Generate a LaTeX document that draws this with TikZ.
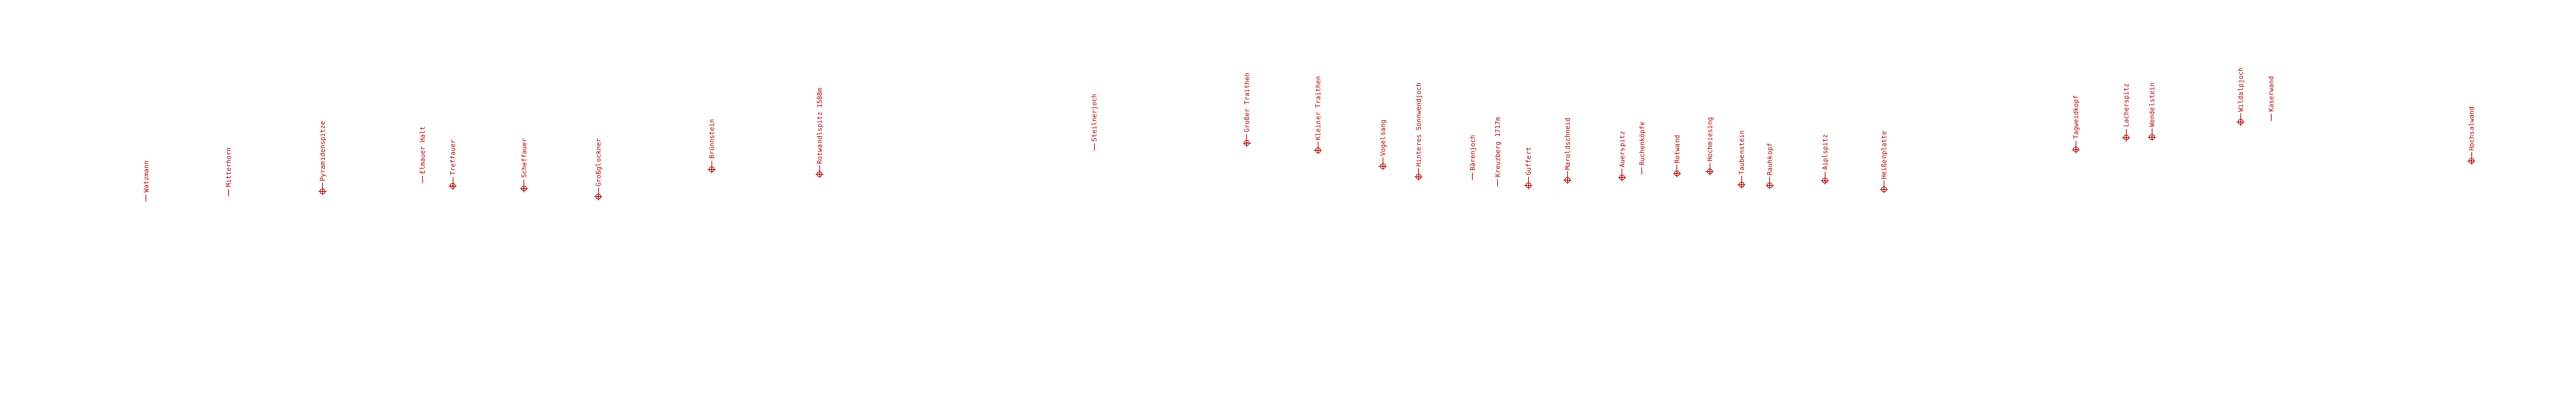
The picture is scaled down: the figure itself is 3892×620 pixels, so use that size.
\documentclass[tikz,border=0pt]{standalone}
\usepackage{fontspec}
\newfontfamily\lblfont{DejaVu Sans Mono}
\definecolor{pk}{RGB}{170,0,0}
\tikzset{
  lbl/.style={rotate=90, anchor=west, inner sep=0pt, text=pk, font=\lblfont\fontsize{10}{12}\selectfont, text height=7.3pt, text depth=0pt},
  stem/.style={draw=pk, line width=0.9pt},
  marker/.style={circle, draw=pk, line width=0.9pt, minimum size=8pt, inner sep=0pt}
}
\newcommand\peakmark[4]{%
  \node[marker] (#1m) at (#2,#3) {};
  \node[lbl] (#1t) at (#2,#3-15) {#4};
  \draw[stem] ([xshift=-1.5pt]#1m.west) -- ([xshift=1.5pt]#1m.east);
  \draw[stem] ([yshift=-1.5pt]#1m.south) -- (#1m.north);
  \fill[pk] (#1m.center) circle (1.6pt);
  \draw[stem] (#1m.north) -- ([yshift=-2pt]#1t.west);
}
\newcommand\passmark[4]{%
  \coordinate (#1m) at (#2,#3);
  \node[lbl] (#1t) at (#2,#3-13.3) {#4};
  \draw[stem] (#1m) -- ([yshift=-2.5pt]#1t.west);
}
\begin{document}
\begin{tikzpicture}[x=1pt,y=-1pt]
\useasboundingbox (0,0) rectangle (3892,620);
\passmark{a}{220.7}{305}{Watzmann}
\passmark{b}{345.3}{297.3}{Mitterhorn}
\peakmark{c}{487.3}{289.3}{Pyramidenspitze}
\passmark{d}{638.3}{277.3}{Elmauer Halt}
\peakmark{e}{684}{281}{Treffauer}
\peakmark{f}{791.7}{285}{Scheffauer}
\peakmark{g}{904}{297.3}{Großglockner}
\peakmark{h}{1075.3}{256}{Brünnstein}
\peakmark{i}{1238.3}{263.3}{Rotwandlspitz 1588m}
\passmark{j}{1653}{228.3}{Steilnerjoch}
\peakmark{k}{1883.7}{216}{Großer Traithen}
\peakmark{l}{1991.3}{227.3}{Kleiner Traithen}
\peakmark{m}{2089.3}{251.3}{Vogelsang}
\peakmark{n}{2143.3}{267.3}{Hinteres Sonnwendjoch}
\passmark{o}{2224.7}{272.3}{Bärenjoch}
\passmark{p}{2262.7}{281.7}{Kreuzberg 1717m}
\peakmark{q}{2309.3}{280.3}{Guffert}
\peakmark{r}{2368.3}{272.3}{Maroldschneid}
\peakmark{s}{2450.7}{268.3}{Auerspitz}
\passmark{t}{2480.7}{264.3}{Ruchenköpfe}
\peakmark{u}{2533.7}{262.3}{Rotwand}
\peakmark{v}{2583.3}{259.3}{Hochmiesing}
\peakmark{w}{2631.3}{279.3}{Taubenstein}
\peakmark{x}{2673.7}{280.3}{Rauhkopf}
\peakmark{y}{2757.3}{273}{Aiplspitz}
\peakmark{z}{2846.3}{286.3}{Heißenplatte}
\peakmark{aa}{3136.3}{226}{Tagweidkopf}
\peakmark{ab}{3212.3}{208}{Lacherspitz}
\peakmark{ac}{3251.3}{207.3}{Wendelstein}
\peakmark{ad}{3385.3}{184.3}{Wildalpjoch}
\passmark{ae}{3431.3}{182.7}{Kaserwand}
\peakmark{af}{3734}{243.3}{Hochsalwand}
\end{tikzpicture}
\end{document}
